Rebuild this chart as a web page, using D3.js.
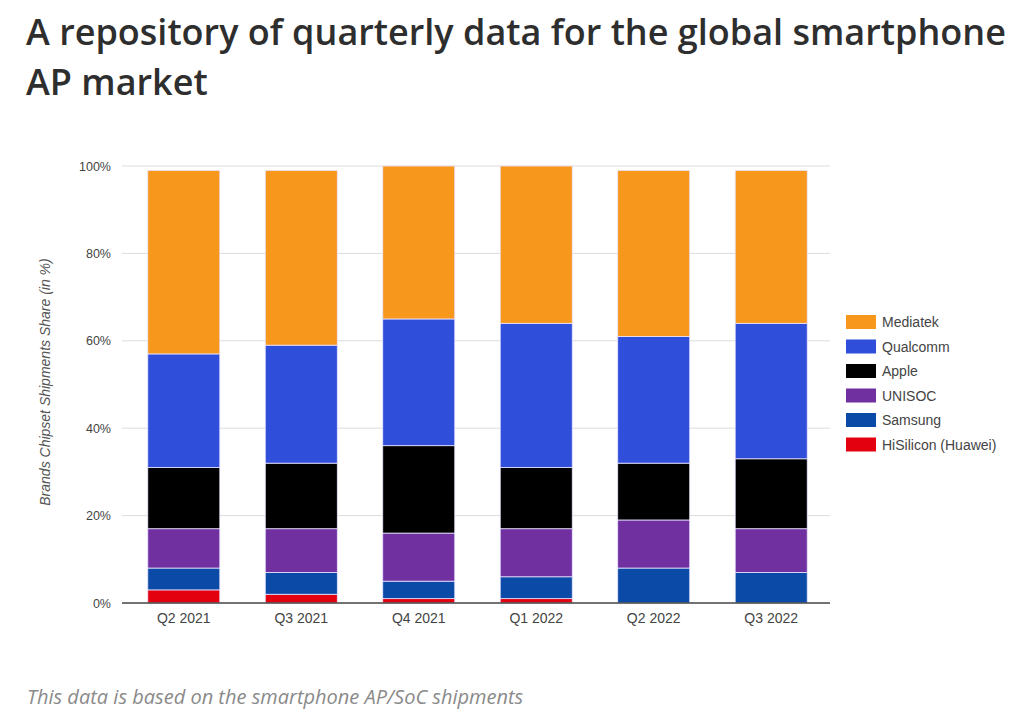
<!DOCTYPE html>
<html>
<head>
<meta charset="utf-8">
<script src="https://cdn.jsdelivr.net/npm/d3@7"></script>
<style>
  body { margin: 0; background: #fff; }
  .title { font-family: "Open Sans", sans-serif; font-weight: 600; font-size: 36px; fill: #2e2e2e; }
  .note { font-family: "Open Sans", sans-serif; font-style: italic; font-size: 20px; fill: #8a8a8a; }
  .tick text { font-family: "Liberation Sans", Arial, sans-serif; fill: #444; }
</style>
</head>
<body>
<svg id="chart" width="1028" height="720"></svg>
<script>
// Quarterly chipset share (in %)
const quarters = ["Q2 2021", "Q3 2021", "Q4 2021", "Q1 2022", "Q2 2022", "Q3 2022"];
const brands = ["HiSilicon (Huawei)", "Samsung", "UNISOC", "Apple", "Qualcomm", "Mediatek"];
const hisilicon = [3, 2, 1, 1, 0, 0];
const samsung   = [5, 5, 4, 5, 8, 7];
const unisoc    = [9, 10, 11, 11, 11, 10];
const apple     = [14, 15, 20, 14, 13, 16];
const qualcomm  = [26, 27, 29, 33, 29, 31];
const mediatek  = [42, 40, 35, 36, 38, 35];
const yTicks = [0, 20, 40, 60, 80, 100];
const colors = ["#e3000f", "#0b4aa6", "#7030a0", "#000000", "#2f4fdb", "#f7981d"];

const seriesValues = [hisilicon, samsung, unisoc, apple, qualcomm, mediatek];
const rows = quarters.map((q, i) => {
    const r = {quarter: q};
    brands.forEach((b, j) => r[b] = seriesValues[j][i]);
    return r;
});

const svg = d3.select("#chart");

// Title, two lines
svg.append("text").attr("class", "title").attr("x", 26).attr("y", 45)
    .text("A repository of quarterly data for the global smartphone");
svg.append("text").attr("class", "title").attr("x", 26).attr("y", 95)
    .text("AP market");

const x = d3.scaleBand()
    .domain(quarters)
    .range([125, 830])
    .paddingInner(0.387)
    .paddingOuter(0.194);

const y = d3.scaleLinear()
    .domain([0, 100])
    .range([603, 166]);

// gridlines
svg.append("g")
    .selectAll("line")
    .data(yTicks.filter(d => d > 0))
    .join("line")
    .attr("x1", 122).attr("x2", 830)
    .attr("y1", d => y(d)).attr("y2", d => y(d))
    .attr("stroke", "#dcdcdc");

// Y axis
const yAxis = svg.append("g")
    .attr("transform", "translate(118,0)")
    .call(d3.axisLeft(y).tickValues(yTicks).tickFormat(d => d + "%").tickSize(0).tickPadding(7));
yAxis.select(".domain").remove();
yAxis.selectAll("text").style("font-size", "12.5px");

// stacked bars
const stack = d3.stack().keys(brands)(rows);
svg.append("g")
    .selectAll("g")
    .data(stack)
    .join("g")
    .attr("fill", (d, i) => colors[i])
    .selectAll("rect")
    .data(d => d)
    .join("rect")
    .attr("x", d => x(d.data.quarter))
    .attr("y", d => y(d[1]))
    .attr("width", x.bandwidth())
    .attr("height", d => y(d[0]) - y(d[1]))
    .attr("stroke", "#e8e4ff")
    .attr("stroke-width", d => (d[1] - d[0]) > 0 ? 0.8 : 0);

// X axis
const xAxis = svg.append("g")
    .attr("transform", "translate(0,603)")
    .call(d3.axisBottom(x).tickSize(0).tickPadding(10));
xAxis.select(".domain").remove();
xAxis.selectAll("text").style("font-size", "14px");
svg.append("line")
    .attr("x1", 122).attr("x2", 830)
    .attr("y1", y(0)).attr("y2", y(0))
    .attr("stroke", "#444").attr("stroke-width", 1.5);

// Y axis label
svg.append("text")
    .attr("transform", "translate(50,382) rotate(-90)")
    .attr("text-anchor", "middle")
    .style("font-family", "Liberation Sans, Arial, sans-serif")
    .style("font-style", "italic")
    .style("font-size", "14px")
    .attr("fill", "#555")
    .text("Brands Chipset Shipments Share (in %)");

// Legend (top to bottom: Mediatek first)
const legendItems = brands.slice().reverse();
const legendColors = colors.slice().reverse();
const legend = svg.append("g")
    .selectAll("g")
    .data(legendItems)
    .join("g")
    .attr("transform", (d, i) => `translate(846,${315 + i * 24.5})`);
legend.append("rect")
    .attr("width", 30).attr("height", 14)
    .attr("fill", (d, i) => legendColors[i]);
legend.append("text")
    .attr("x", 36).attr("y", 12)
    .style("font-family", "Liberation Sans, Arial, sans-serif")
    .style("font-size", "14px")
    .attr("fill", "#444")
    .text(d => d);

// footnote
svg.append("text").attr("class", "note").attr("x", 27).attr("y", 704)
    .text("This data is based on the smartphone AP/SoC shipments");
</script>
</body>
</html>
